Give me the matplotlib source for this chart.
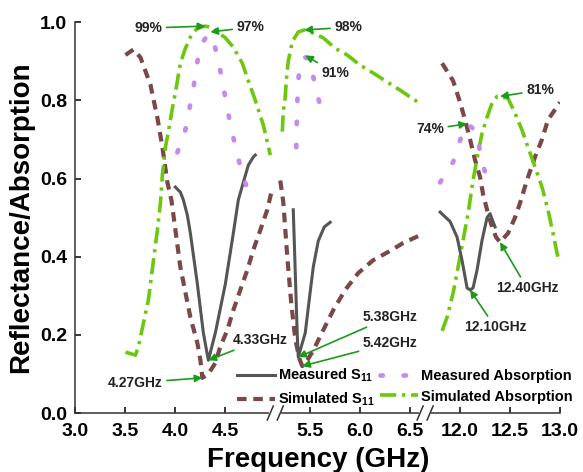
import matplotlib
matplotlib.use("Agg")
import matplotlib.pyplot as plt
import numpy as np
from matplotlib.lines import Line2D

plt.rcParams["font.family"] = ["Liberation Sans", "DejaVu Sans"]
plt.rcParams["font.weight"] = "bold"
plt.rcParams["axes.labelweight"] = "bold"
plt.rcParams["mathtext.fontset"] = "custom"
plt.rcParams["mathtext.rm"] = "Liberation Sans:bold"
plt.rcParams["mathtext.default"] = "rm"

nan = np.nan

# three frequency bands separated by axis breaks (NaN splits the line)
meas_s11_f = [4.00, 4.05, 4.08, 4.12, 4.15, 4.22, 4.28, 4.33, 4.40, 4.50, 4.58, 4.63, 4.68, 4.73, 4.78, 4.80, nan,
              5.33, 5.345, 5.36, 5.37, 5.38, 5.45, 5.49, 5.53, 5.58, 5.64, 5.70, nan,
              11.80, 11.90, 11.97, 12.02, 12.07, 12.10, 12.13, 12.17, 12.22, 12.27, 12.30, 12.35]
meas_s11 = [0.578, 0.565, 0.545, 0.506, 0.46, 0.33, 0.205, 0.135, 0.205, 0.33, 0.46, 0.545, 0.59, 0.634, 0.655, 0.66, nan,
            0.52, 0.40, 0.28, 0.20, 0.143, 0.205, 0.29, 0.373, 0.44, 0.476, 0.488, nan,
            0.514, 0.49, 0.45, 0.39, 0.32, 0.315, 0.32, 0.366, 0.442, 0.50, 0.51, 0.476]

sim_s11_f = [3.50, 3.58, 3.65, 3.75, 3.82, 3.87, 3.92, 3.96, 4.05, 4.15, 4.22, 4.25, 4.27, 4.33, 4.40, 4.45, 4.52,
             4.58, 4.65, 4.72, 4.78, 4.85, 4.92, 4.97, nan,
             5.20, 5.23, 5.27, 5.31, 5.35, 5.39, 5.42, 5.47, 5.53, 5.63, 5.73, 5.85, 5.98, 6.13, 6.28, 6.43, 6.60, nan,
             11.82, 11.93, 12.00, 12.05, 12.10, 12.15, 12.20, 12.23, 12.28, 12.32, 12.36, 12.40, 12.48, 12.55,
             12.60, 12.67, 12.75, 12.82, 12.88, 13.00]
sim_s11 = [0.916, 0.93, 0.91, 0.84, 0.755, 0.68, 0.59, 0.545, 0.373, 0.245, 0.179, 0.136, 0.09, 0.10, 0.128, 0.17, 0.212,
           0.263, 0.315, 0.366, 0.417, 0.468, 0.52, 0.575, nan,
           0.595, 0.54, 0.40, 0.28, 0.19, 0.14, 0.12, 0.135, 0.16, 0.212, 0.263, 0.315, 0.358, 0.391, 0.412, 0.435, 0.455, nan,
           0.895, 0.85, 0.795, 0.75, 0.70, 0.647, 0.604, 0.56, 0.51, 0.476, 0.45, 0.437, 0.46, 0.50,
           0.537, 0.596, 0.655, 0.70, 0.75, 0.795]

meas_abs_f = [4.02, 4.10, 4.14, 4.18, 4.21, 4.25, 4.33, 4.39, 4.44, 4.48, 4.52, 4.56, 4.61, 4.66, 4.72, nan,
              5.36, 5.365, 5.37, 5.38, 5.40, 5.45, 5.50, 5.53, 5.58, 5.63, nan,
              11.80, 11.93, 12.00, 12.07, 12.17, 12.20, 12.25, 12.33]
meas_abs = [0.667, 0.724, 0.777, 0.83, 0.885, 0.94, 0.97, 0.944, 0.888, 0.834, 0.78, 0.726, 0.673, 0.62, 0.573, nan,
            0.68, 0.74, 0.79, 0.85, 0.90, 0.91, 0.905, 0.86, 0.806, 0.754, nan,
            0.59, 0.642, 0.698, 0.74, 0.72, 0.665, 0.616, 0.62]

sim_abs_f = [3.50, 3.60, 3.63, 3.73, 3.78, 3.82, 3.85, 3.87, 3.90, 3.93, 3.97, 4.00, 4.05, 4.10, 4.15, 4.22, 4.30,
             4.38, 4.42, 4.50, 4.58, 4.67, 4.73, 4.80, 4.88, 4.95, nan,
             5.22, 5.23, 5.25, 5.26, 5.28, 5.32, 5.38, 5.44, 5.53, 5.63, 5.75, 5.87, 6.00, 6.13, 6.27, 6.40, 6.58, nan,
             11.82, 11.87, 11.93, 11.98, 12.03, 12.08, 12.10, 12.13, 12.18, 12.22, 12.27, 12.32, 12.37, 12.40,
             12.48, 12.55, 12.62, 12.68, 12.75, 12.82, 12.88, 12.93, 12.97, 12.98]
sim_abs = [0.156, 0.148, 0.17, 0.29, 0.39, 0.468, 0.537, 0.61, 0.68, 0.72, 0.78, 0.82, 0.895, 0.933, 0.962, 0.985, 0.99,
           0.985, 0.975, 0.96, 0.936, 0.895, 0.85, 0.80, 0.737, 0.66, nan,
           0.72, 0.77, 0.81, 0.85, 0.90, 0.95, 0.975, 0.98, 0.972, 0.96, 0.933, 0.916, 0.89, 0.87, 0.847, 0.826, 0.795, nan,
           0.21, 0.245, 0.307, 0.373, 0.442, 0.51, 0.545, 0.596, 0.665, 0.716, 0.757, 0.793, 0.81, 0.81,
           0.805, 0.767, 0.724, 0.68, 0.63, 0.578, 0.52, 0.46, 0.41, 0.40]

x_ticks = [3.0, 3.5, 4.0, 4.5, 5.5, 6.0, 6.5, 12.0, 12.5, 13.0]
y_ticks = [0.0, 0.2, 0.4, 0.6, 0.8, 1.0]

# (label, point, text position)
notes = [
    ("99%", (4.30, 0.99), (3.73, 0.985)),
    ("97%", (4.35, 0.975), (4.75, 0.987)),
    ("98%", (5.44, 0.98), (5.88, 0.987)),
    ("91%", (5.45, 0.915), (5.75, 0.87)),
    ("74%", (12.07, 0.74), (11.70, 0.726)),
    ("81%", (12.40, 0.81), (12.80, 0.826)),
    ("4.27GHz", (4.27, 0.09), (3.60, 0.077)),
    ("4.33GHz", (4.33, 0.135), (4.85, 0.187)),
    ("5.38GHz", (5.38, 0.143), (6.30, 0.246)),
    ("5.42GHz", (5.42, 0.12), (6.30, 0.179)),
    ("12.10GHz", (12.10, 0.315), (12.35, 0.22)),
    ("12.40GHz", (12.40, 0.437), (12.67, 0.32)),
]

BREAK1 = 5.0    # first band ends, second starts at 5.15
BREAK2 = 6.65   # second band ends, third starts at 11.65


def forward(x):
    x = np.asarray(x, dtype=float)
    return np.where(x < 5.075, x - 3.0, np.where(x < 9.0, x - 3.15, x - 8.15))


def inverse(u):
    u = np.asarray(u, dtype=float)
    return np.where(u < 2.0, u + 3.0, np.where(u < 3.5, u + 3.15, u + 8.15))


fig = plt.figure(figsize=(5.83, 4.72), dpi=100)
ax = fig.add_axes([0.1295, 0.125, 0.831, 0.828])
ax.set_xscale("function", functions=(forward, inverse))

l_ms, = ax.plot(meas_s11_f, meas_s11, color="#555555", lw=2.2, label="Measured S$_{11}$", zorder=3)
l_ma, = ax.plot(meas_abs_f, meas_abs, color="#c38af0", lw=3.4, linestyle=(0, (0.5, 4.4)),
                dash_capstyle="round", label="Measured Absorption", zorder=4)
l_ss, = ax.plot(sim_s11_f, sim_s11, color="#7a4848", lw=3.0, linestyle=(0, (2.3, 1.6)),
                label="Simulated S$_{11}$", zorder=2)
l_sa, = ax.plot(sim_abs_f, sim_abs, color="#6cc70e", lw=2.6, linestyle=(0, (4.5, 1.6, 0.9, 1.6)),
                label="Simulated Absorption", zorder=2)

ax.set_xlim(3.0, 13.0)
ax.set_ylim(0.0, 1.0)
ax.set_xticks(x_ticks)
ax.set_xticklabels([f"{t:.1f}" for t in x_ticks])
ax.set_yticks(y_ticks)
ax.set_yticklabels([f"{t:.1f}" for t in y_ticks])
ax.tick_params(direction="in", length=4.5, width=1.1, labelsize=14)
ax.tick_params(axis="x", pad=7)
ax.tick_params(axis="y", pad=6)
for lab in ax.get_xticklabels() + ax.get_yticklabels():
    lab.set_fontweight("bold")

for side in ["top", "right"]:
    ax.spines[side].set_visible(False)
for side in ["left", "bottom"]:
    ax.spines[side].set_linewidth(1.1)
    ax.spines[side].set_color("#333333")

ax.set_xlabel("Frequency (GHz)", fontsize=20, labelpad=5)
ax.set_ylabel("Reflectance/Absorption", fontsize=20, labelpad=4)

for text, xy, xytext in notes:
    ax.annotate(text, xy=xy, xytext=xytext, ha="center", va="center",
                fontsize=10, fontweight="bold", color="#222222",
                arrowprops=dict(arrowstyle="-|>", color="#1b9a1b", lw=1.2,
                                mutation_scale=11, shrinkA=1, shrinkB=0),
                annotation_clip=False, zorder=6)

# columns fill top to bottom: S11 entries on the left, absorption on the right
ax.legend(handles=[l_ms, l_ss, l_ma, l_sa], loc="lower left", bbox_to_anchor=(0.333, 0.012),
          ncol=2, frameon=False, handlelength=2.6, handletextpad=0.2, columnspacing=0.4,
          labelspacing=0.45, borderpad=0, borderaxespad=0,
          prop={"weight": "bold", "size": 10.5})

# axis break marks on the bottom spine
to_fig = fig.transFigure.inverted()
for xb in (BREAK1, BREAK2):
    X0, Y0 = ax.transData.transform((xb, 0.0))
    segs = [
        ([X0 - 4, X0 + 4], [Y0, Y0], "white", 3.0),
        ([X0 - 8, X0 - 2], [Y0 - 7, Y0 + 7], "#333333", 1.1),
        ([X0 + 2, X0 + 8], [Y0 - 7, Y0 + 7], "#333333", 1.1),
    ]
    for xs, ys, c, w in segs:
        pts = to_fig.transform(np.column_stack([xs, ys]))
        fig.add_artist(Line2D(pts[:, 0], pts[:, 1], color=c, lw=w,
                              transform=fig.transFigure, zorder=10))

fig.savefig("out.png", dpi=100)
